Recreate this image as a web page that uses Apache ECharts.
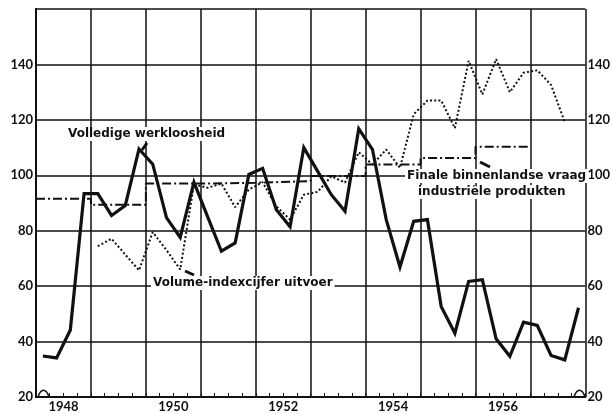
<!DOCTYPE html>
<html>
<head>
<meta charset="utf-8">
<script src="https://cdn.jsdelivr.net/npm/echarts@6/dist/echarts.min.js"></script>
<style>
  html, body { margin: 0; background: #fff; }
  #chart { width: 613px; height: 414px; }
</style>
</head>
<body>
<div id="chart"></div>
<script>
(function () {
    // quarterly data, 1948 Q1 .. 1957 Q4 (x = quarter index)
    var yearLabels = ['1948', '1950', '1952', '1954', '1956'];
    var werkloosheid = [34.8, 34.1, 44.2, 93.4, 93.4, 85.5, 89.1, 109.5, 104, 84.7,
        77.6, 97.5, 85, 72.6, 75.6, 100.3, 102.5, 87.6, 81.4, 110,
        101.5, 93, 87, 116.8, 109.3, 84, 66.9, 83.4, 84, 52.7,
        43, 61.7, 62.3, 41, 34.7, 47, 45.8, 35, 33.4, 52.2];
    // export volume starts 1949 Q1
    var uitvoerStart = 4;
    var uitvoer = [74.4, 77.1, 71.4, 65.7, 79.5, 73, 66, 96.7, 95.5, 97,
        88.5, 94.9, 97.5, 88.8, 84, 93, 94, 99.6, 97.4, 108.3,
        103.9, 109.3, 102.7, 122, 127, 127, 117, 141.3, 129.2, 141.9,
        130, 137, 137.9, 132.6, 119.2];
    // yearly values 1948 .. 1956
    var vraag = [91.5, 89.4, 97, 97.3, 97.9, 99.7, 103.9, 106.2, 110.3];

    var ink = '#111';
    var font = 'Lato';
    var noteFont = 'bold 12px "DejaVu Sans"';

    var lineData = werkloosheid.map(function (v, i) { return [i + 0.5, v]; });
    var uitvoerData = uitvoer.map(function (v, i) { return [uitvoerStart + i + 0.5, v]; });
    var vraagData = vraag.map(function (v, i) { return [i * 4, v]; });
    vraagData.push([vraag.length * 4, vraag[vraag.length - 1]]);

    var myChart = echarts.init(document.getElementById('chart'));

    var yAxisBase = {
        type: 'value',
        min: 20,
        max: 160,
        interval: 20,
        axisLine: { show: true, lineStyle: { color: ink, width: 2 } },
        axisTick: { show: false },
        axisLabel: {
            color: ink,
            fontFamily: font,
            fontWeight: 'bold',
            fontSize: 13,
            padding: [0, 0, 10, 0],
            formatter: function (v) { return v >= 160 ? '' : String(v); }
        }
    };

    function note(text, left, top) {
        return {
            type: 'text', left: left, top: top, z: 10,
            style: { text: text, fill: ink, font: noteFont, backgroundColor: '#fff', padding: [1, 2] }
        };
    }
    function pointer(x1, y1, x2, y2) {
        return {
            type: 'line', z: 10,
            shape: { x1: x1, y1: y1, x2: x2, y2: y2 },
            style: { stroke: ink, lineWidth: 3 }
        };
    }
    // axis break mark on the baseline
    function wave(x) {
        return {
            type: 'group', z: 10,
            children: [
                { type: 'rect', shape: { x: x, y: 394, width: 10, height: 5 }, style: { fill: '#fff' } },
                {
                    type: 'bezierCurve',
                    shape: { x1: x - 1, y1: 397, cpx1: x + 2, cpy1: 388, cpx2: x + 7, cpy2: 388, x2: x + 10, y2: 397 },
                    style: { stroke: ink, lineWidth: 1.5, fill: null }
                }
            ]
        };
    }

    var option = {
        animation: false,
        backgroundColor: '#fff',
        grid: { left: 36, right: 25, top: 9, bottom: 17 },
        xAxis: [
            {
                type: 'value',
                min: 0,
                max: 40,
                interval: 4,
                axisLine: { show: true, lineStyle: { color: ink, width: 2 } },
                axisTick: { show: true, inside: true, length: 4, lineStyle: { color: ink } },
                minorTick: { show: true, splitNumber: 4, length: 4, lineStyle: { color: ink, width: 1 } },
                axisLabel: { show: false },
                splitLine: { show: true, lineStyle: { color: ink, width: 1.5 } }
            },
            {
                type: 'value',
                position: 'bottom',
                offset: 0,
                min: 0,
                max: 40,
                interval: 2,
                axisLine: { show: false },
                axisTick: { show: false },
                splitLine: { show: false },
                axisLabel: {
                    color: ink,
                    fontFamily: font,
                    fontWeight: 'bold',
                    fontSize: 13,
                    margin: 3,
                    formatter: function (v) {
                        if ((v - 2) % 8 !== 0) return '';
                        return yearLabels[(v - 2) / 8] || '';
                    }
                }
            }
        ],
        yAxis: [
            Object.assign({}, yAxisBase, {
                position: 'left',
                splitLine: { show: true, lineStyle: { color: ink, width: 1.5 } },
                axisLabel: Object.assign({}, yAxisBase.axisLabel, { margin: 3 })
            }),
            Object.assign({}, yAxisBase, {
                position: 'right',
                splitLine: { show: false },
                axisLabel: Object.assign({}, yAxisBase.axisLabel, { margin: 2 })
            })
        ],
        series: [
            {
                name: 'Finale binnenlandse vraag industriële produkten',
                type: 'line',
                step: 'end',
                symbol: 'none',
                data: vraagData,
                lineStyle: { color: ink, width: 2, type: [9, 3, 2, 3] },
                z: 3
            },
            {
                name: 'Volume-indexcijfer uitvoer',
                type: 'line',
                symbol: 'none',
                data: uitvoerData,
                lineStyle: { color: ink, width: 2, type: [2, 2.2] },
                z: 4
            },
            {
                name: 'Volledige werkloosheid',
                type: 'line',
                symbol: 'none',
                data: lineData,
                lineStyle: { color: ink, width: 3.2, join: 'miter' },
                z: 5
            }
        ],
        graphic: [
            note('Volledige werkloosheid', 66, 127),
            pointer(147, 143, 142, 150),
            note('Volume-indexcijfer uitvoer', 151, 276),
            pointer(185, 271, 194, 275),
            note('Finale binnenlandse vraag', 405, 169),
            note('industriële produkten', 416, 185),
            pointer(480, 162, 490, 167),
            wave(39),
            wave(575)
        ]
    };

    myChart.setOption(option);
    window.addEventListener('resize', function () {
        myChart.resize();
    });
})();
</script>
</body>
</html>
